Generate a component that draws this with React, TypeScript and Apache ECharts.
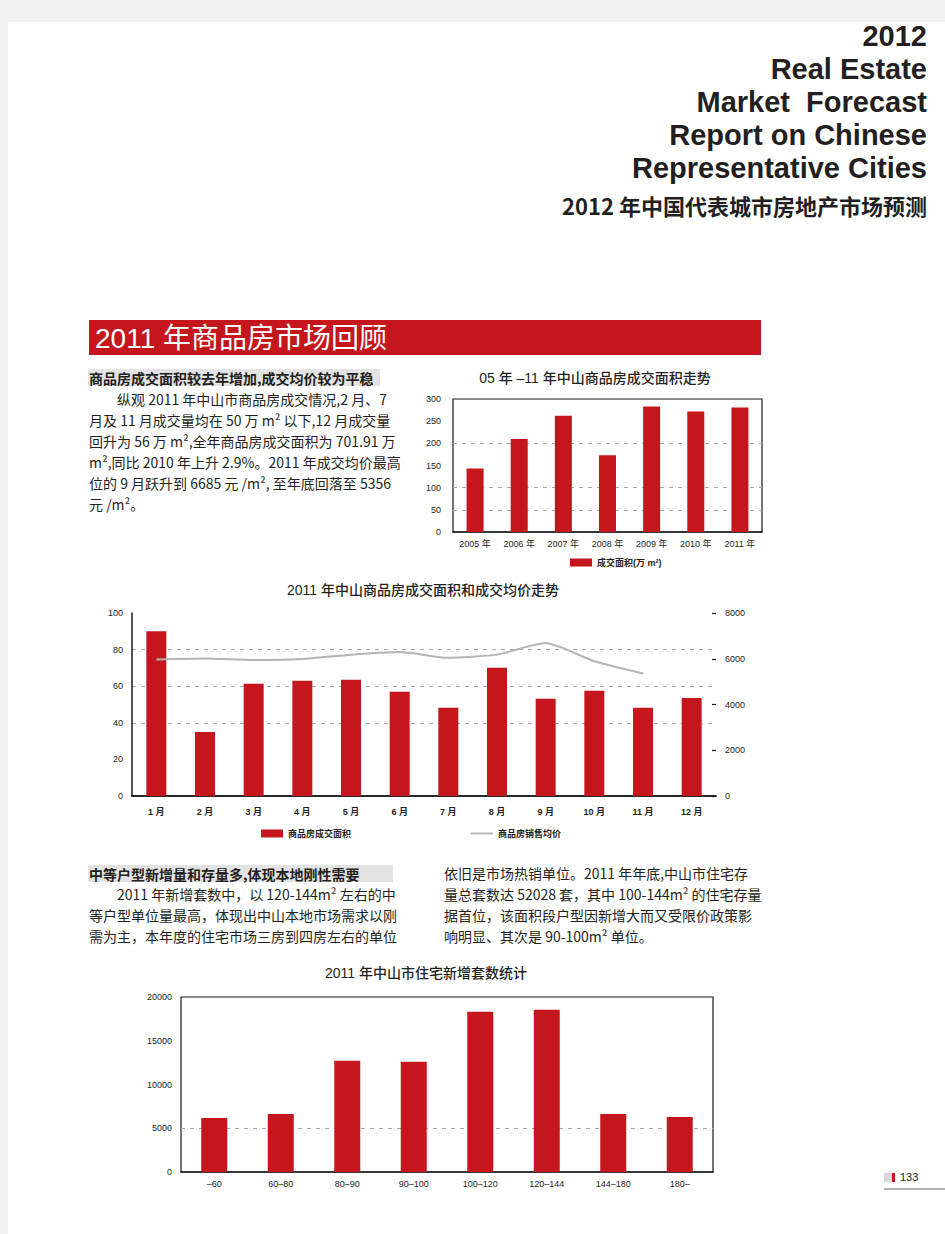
import React, { useEffect, useRef } from "react";
import * as echarts from "echarts";

// ---------- data ----------
const years = ["2005 年", "2006 年", "2007 年", "2008 年", "2009 年", "2010 年", "2011 年"];
const yearArea = [143, 210, 262, 173, 283, 272, 281];

const months = ["1 月", "2 月", "3 月", "4 月", "5 月", "6 月", "7 月", "8 月", "9 月", "10 月", "11 月", "12 月"];
const monthArea = [90, 35, 61.3, 63, 63.5, 57, 48.2, 70.1, 53.1, 57.5, 48.2, 53.6];
const monthPrice = [5970, 6010, 5940, 5990, 6180, 6290, 6040, 6180, 6685, 5890, 5356, null];

const sizeBands = ["–60", "60–80", "80–90", "90–100", "100–120", "120–144", "144–180", "180–"];
const newUnits = [6180, 6640, 12710, 12600, 18320, 18550, 6640, 6300];

const headerLines = ["2012", "Real Estate", "Market  Forecast", "Report on Chinese", "Representative Cities"];
const headerCn = "2012 年中国代表城市房地产市场预测";
const sectionTitle = "2011 年商品房市场回顾";
const heading1 = "商品房成交面积较去年增加,成交均价较为平稳";
const para1 = [
  "纵观 2011 年中山市商品房成交情况,2 月、7",
  "月及 11 月成交量均在 50 万 m² 以下,12 月成交量",
  "回升为 56 万 m²,全年商品房成交面积为 701.91 万",
  "m²,同比 2010 年上升 2.9%。2011 年成交均价最高",
  "位的 9 月跃升到 6685 元 /m², 至年底回落至 5356",
  "元 /m²。",
];
const heading2 = "中等户型新增量和存量多,体现本地刚性需要";
const para2Left = [
  "2011 年新增套数中，以 120-144m² 左右的中",
  "等户型单位量最高，体现出中山本地市场需求以刚",
  "需为主，本年度的住宅市场三房到四房左右的单位",
];
const para2Right = [
  "依旧是市场热销单位。2011 年年底,中山市住宅存",
  "量总套数达 52028 套，其中 100-144m² 的住宅存量",
  "据首位，该面积段户型因新增大而又受限价政策影",
  "响明显、其次是 90-100m² 单位。",
];
const chartTitles = [
  "05 年 –11 年中山商品房成交面积走势",
  "2011 年中山商品房成交面积和成交均价走势",
  "2011 年中山市住宅新增套数统计",
];
const pageNo = "133";

// ---------- styles ----------
const RED = "#c4161c";
const INK = "#231f20";
const LATIN = '"Liberation Sans", "Noto Sans CJK SC", sans-serif';
const CJK = '"Noto Sans CJK SC", "Liberation Sans", sans-serif';
const GRID_DASH = { type: [4, 5] as any, color: "#a8a8a8", width: 1 };

function txt(text: string, x: number, y: number, opts: any = {}) {
  return {
    type: "text",
    x,
    y,
    silent: true,
    style: {
      text,
      fill: opts.fill || INK,
      fontSize: opts.fontSize || 14,
      fontFamily: opts.fontFamily || CJK,
      fontWeight: opts.fontWeight || "normal",
      align: opts.align || "left",
      verticalAlign: "middle",
    },
  };
}

const plain = (v: number) => String(v);

export default function App() {
  const ref = useRef<HTMLDivElement>(null);

  useEffect(() => {
    if (!ref.current) return;
    const chart = echarts.init(ref.current, undefined, { renderer: "svg" });

    const graphics: any[] = [];
    // header
    headerLines.forEach((l, i) =>
      graphics.push(txt(l, 927, 36 + i * 33, { fontSize: 29, fontWeight: "bold", fontFamily: LATIN, align: "right" }))
    );
    graphics.push(txt(headerCn, 927, 205, { fontSize: 22, fontWeight: "bold", align: "right" }));
    // section bar
    graphics.push({ type: "rect", shape: { x: 89, y: 320, width: 672, height: 35 }, style: { fill: RED }, silent: true });
    graphics.push(txt(sectionTitle, 95, 338, { fontSize: 28, fill: "#ffffff", fontFamily: LATIN }));
    // heading 1
    graphics.push({ type: "rect", shape: { x: 88, y: 369, width: 292, height: 17 }, style: { fill: "#e3e3e3" }, silent: true });
    graphics.push(txt(heading1, 89, 377.5, { fontSize: 14, fontWeight: "bold" }));
    para1.forEach((l, i) => graphics.push(txt(l, i === 0 ? 117 : 89, 399 + i * 21, { fontSize: 14 })));
    // heading 2
    graphics.push({ type: "rect", shape: { x: 88, y: 865, width: 305, height: 17 }, style: { fill: "#e3e3e3" }, silent: true });
    graphics.push(txt(heading2, 89, 873.5, { fontSize: 14, fontWeight: "bold" }));
    para2Left.forEach((l, i) => graphics.push(txt(l, i === 0 ? 117 : 89, 894 + i * 21, { fontSize: 14 })));
    para2Right.forEach((l, i) => graphics.push(txt(l, 444, 873 + i * 21, { fontSize: 14 })));
    // page number
    graphics.push({ type: "rect", shape: { x: 884, y: 1173, width: 8, height: 9 }, style: { fill: "#d9d9d9" }, silent: true });
    graphics.push({ type: "rect", shape: { x: 892, y: 1173, width: 3, height: 9 }, style: { fill: RED }, silent: true });
    graphics.push(txt(pageNo, 900, 1177, { fontSize: 11, fontFamily: LATIN }));
    graphics.push({ type: "line", shape: { x1: 884, y1: 1189, x2: 945, y2: 1189 }, style: { stroke: "#999999", lineWidth: 1.5 }, silent: true });

    const axisLabelBase = { fontSize: 9, color: INK, fontFamily: LATIN };
    const blackLine = { lineStyle: { color: "#1a1a1a", width: 1.5 } };

    const option: any = {
      animation: false,
      backgroundColor: "transparent",
      title: [
        { text: chartTitles[0], left: 595, top: 371, textAlign: "center", padding: 0, textStyle: { fontSize: 14, fontWeight: 500, color: INK, fontFamily: LATIN } },
        { text: chartTitles[1], left: 423, top: 583, textAlign: "center", padding: 0, textStyle: { fontSize: 14, fontWeight: 500, color: INK, fontFamily: LATIN } },
        { text: chartTitles[2], left: 426, top: 966, textAlign: "center", padding: 0, textStyle: { fontSize: 14, fontWeight: 500, color: INK, fontFamily: LATIN } },
      ],
      legend: [
        {
          data: ["成交面积(万 m²)"],
          left: 570, top: 558, padding: 0, itemWidth: 22, itemHeight: 8, icon: "rect",
          textStyle: { fontSize: 9, fontWeight: "bold", color: INK, fontFamily: LATIN },
        },
        {
          data: [
            { name: "商品房成交面积", icon: "rect" },
            { name: "商品房销售均价", itemStyle: { opacity: 0 } },
          ],
          left: 261, top: 829, padding: 0, itemWidth: 22, itemHeight: 8, itemGap: 119,
          textStyle: { fontSize: 9, fontWeight: "bold", color: INK, fontFamily: LATIN },
        },
      ],
      grid: [
        { left: 453, top: 399, width: 309, height: 133, show: true, borderColor: "#1a1a1a", borderWidth: 1.2, backgroundColor: "transparent" },
        { left: 132, top: 613, width: 584, height: 183 },
        { left: 181, top: 997, width: 532, height: 175, show: true, borderColor: "#1a1a1a", borderWidth: 1.2, backgroundColor: "transparent" },
      ],
      xAxis: [
        {
          type: "category", gridIndex: 0, data: years,
          axisLine: blackLine,
          axisTick: { inside: true, length: 5, lineStyle: { color: "#1a1a1a" } },
          axisLabel: { ...axisLabelBase, margin: 7 },
        },
        {
          type: "category", gridIndex: 1, data: months,
          axisLine: blackLine,
          axisTick: { inside: true, length: 8, lineStyle: { color: "#1a1a1a" } },
          axisLabel: { ...axisLabelBase, fontWeight: "bold", margin: 11 },
        },
        {
          type: "category", gridIndex: 1, data: months, position: "top",
          axisLine: blackLine, axisTick: { show: false }, axisLabel: { show: false },
        },
        {
          type: "category", gridIndex: 2, data: sizeBands,
          axisLine: blackLine,
          axisTick: { inside: true, length: 5, lineStyle: { color: "#1a1a1a" } },
          axisLabel: { ...axisLabelBase, margin: 7 },
        },
      ],
      yAxis: [
        {
          type: "value", gridIndex: 0, min: 0, max: 300, interval: 50,
          axisLine: { show: false }, axisTick: { show: false },
          axisLabel: { ...axisLabelBase, margin: 12, formatter: plain },
          splitLine: { show: true, lineStyle: { ...GRID_DASH, color: ["none", "#a8a8a8", "#a8a8a8", "none", "#a8a8a8", "none", "none"] } },
        },
        {
          type: "value", gridIndex: 1, min: 0, max: 100, interval: 20, position: "left",
          axisLine: { show: true, ...blackLine }, axisTick: { show: false },
          axisLabel: { ...axisLabelBase, margin: 9, formatter: plain },
          splitLine: { show: true, lineStyle: { ...GRID_DASH, color: ["none", "none", "#a8a8a8", "#a8a8a8", "#a8a8a8", "none"] } },
        },
        {
          type: "value", gridIndex: 1, min: 0, max: 8000, interval: 2000, position: "right",
          axisLine: { show: false },
          axisTick: { show: true, inside: true, length: 4, lineStyle: { color: "#1a1a1a", width: 1.2 } },
          axisLabel: { ...axisLabelBase, margin: 9, formatter: plain },
          splitLine: { show: false },
        },
        {
          type: "value", gridIndex: 2, min: 0, max: 20000, interval: 5000,
          axisLine: { show: false }, axisTick: { show: false },
          axisLabel: { ...axisLabelBase, margin: 9, formatter: plain },
          splitLine: { show: true, lineStyle: { ...GRID_DASH, color: ["none", "#a8a8a8", "none", "none", "none"] } },
        },
      ],
      series: [
        { name: "成交面积(万 m²)", type: "bar", xAxisIndex: 0, yAxisIndex: 0, data: yearArea, barWidth: 17, itemStyle: { color: RED } },
        { name: "商品房成交面积", type: "bar", xAxisIndex: 1, yAxisIndex: 1, data: monthArea, barWidth: 20, itemStyle: { color: RED } },
        {
          name: "商品房销售均价", type: "line", xAxisIndex: 1, yAxisIndex: 2, data: monthPrice,
          symbol: "none", smooth: 0.2, z: 5,
          lineStyle: { color: "#b4b4b4", width: 2 }, itemStyle: { color: "#b4b4b4" },
        },
        { name: "新增套数", type: "bar", xAxisIndex: 3, yAxisIndex: 3, data: newUnits, barWidth: 26, itemStyle: { color: RED } },
      ],
      graphic: { elements: graphics },
    };

    chart.setOption(option);
    return () => chart.dispose();
  }, []);

  return (
    <div style={{ position: "absolute", left: 0, top: 0, width: 945, height: 1234, background: "#f2f2f2" }}>
      <div style={{ position: "absolute", left: 8, top: 22, width: 937, height: 1212, background: "#ffffff" }} />
      <div ref={ref} style={{ position: "absolute", left: 0, top: 0, width: 945, height: 1234 }} />
    </div>
  );
}
